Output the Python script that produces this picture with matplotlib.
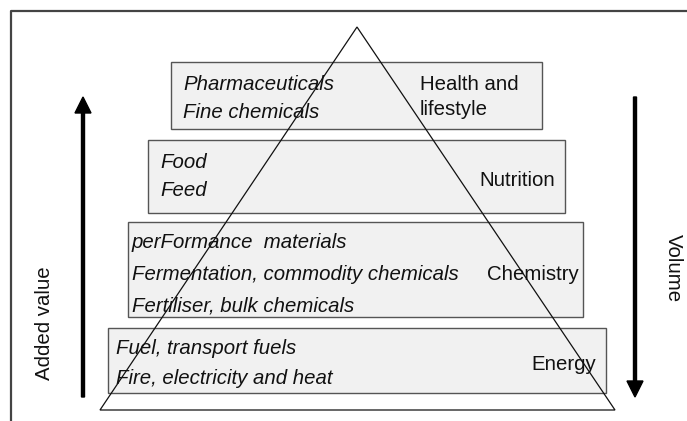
import matplotlib.pyplot as plt
from matplotlib.patches import Rectangle, Polygon

plt.rcParams['font.family'] = ['Liberation Sans', 'DejaVu Sans']

# tiers of the pyramid, top to bottom
sectors = ['Health and\nlifestyle', 'Nutrition', 'Chemistry', 'Energy']
products = [
    ['Pharmaceuticals', 'Fine chemicals'],
    ['Food', 'Feed'],
    ['perFormance  materials', 'Fermentation, commodity chemicals',
     'Fertiliser, bulk chemicals'],
    ['Fuel, transport fuels', 'Fire, electricity and heat'],
]
left_label = 'Added value'
right_label = 'Volume'

# layout in pixel coordinates (x, y from top-left)
boxes = [(171, 62, 542, 129), (148, 140, 565, 213),
         (128, 222, 583, 317), (108, 328, 606, 393)]
item_x = [183, 160, 132, 116]
item_y = [[84, 113], [162, 191], [243, 274, 306], [348, 379]]
sector_x = [420, 555, 579, 596]
sector_ha = ['left', 'right', 'right', 'right']
sector_y = [97, 180, 274, 364]

fig = plt.figure(figsize=(6.87, 4.21), dpi=100)
ax = fig.add_axes([0, 0, 1, 1])
ax.set_xlim(0, 687)
ax.set_ylim(421, 0)
ax.axis('off')

# outer frame (cut off at right and bottom)
ax.plot([11, 11, 690], [425, 11, 11], color='#444444', lw=1.6)

fs = 14.7
for i in range(len(sectors)):
    x0, y0, x1, y1 = boxes[i]
    ax.add_patch(Rectangle((x0, y0), x1 - x0, y1 - y0, facecolor='#f1f1f1',
                           edgecolor='#555555', lw=1.0, zorder=1))
    for j, txt in enumerate(products[i]):
        ax.text(item_x[i], item_y[i][j], txt, fontsize=fs, style='italic',
                ha='left', va='center', color='#111111', zorder=2)
    ax.text(sector_x[i], sector_y[i], sectors[i], fontsize=fs, ha=sector_ha[i],
            va='center', color='#111111', linespacing=1.35, zorder=2)

# pyramid outline
ax.add_patch(Polygon([(357, 27), (100, 410), (615, 410)], closed=True,
                     fill=False, edgecolor='#111111', lw=0.9, zorder=3))

# arrows
ax.arrow(83, 397, 0, -300, width=3, head_width=16, head_length=16,
         length_includes_head=True, color='black', zorder=3)
ax.arrow(635, 97, 0, 300, width=3, head_width=16, head_length=16,
         length_includes_head=True, color='black', zorder=3)

ax.text(45, 323, left_label, fontsize=fs, rotation=90, ha='center',
        va='center', color='#111111')
ax.text(673, 268, right_label, fontsize=fs, rotation=-90, ha='center',
        va='center', color='#111111')

fig.savefig('out.png', dpi=100)
